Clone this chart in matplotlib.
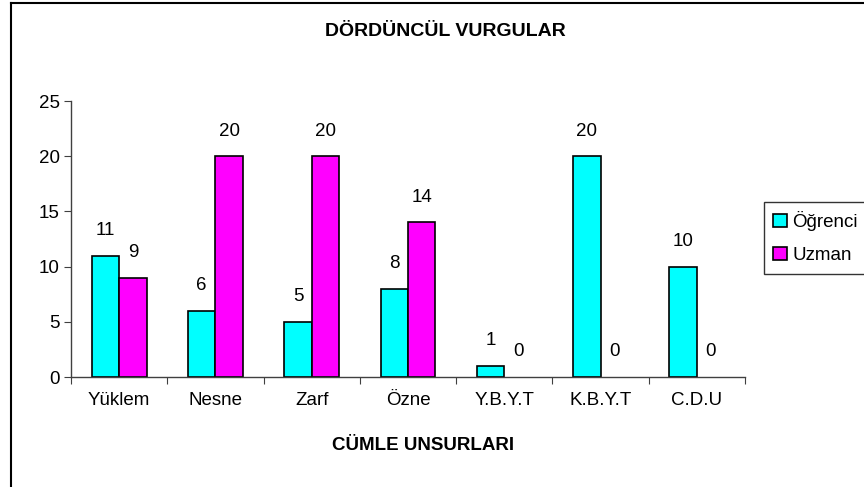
import matplotlib
matplotlib.use("Agg")
import matplotlib.pyplot as plt
from matplotlib.lines import Line2D
import numpy as np

categories = ["Yüklem", "Nesne", "Zarf", "Özne", "Y.B.Y.T", "K.B.Y.T", "C.D.U"]
ogrenci = [11, 6, 5, 8, 1, 20, 10]
uzman = [9, 20, 20, 14, 0, 0, 0]
series_names = ["Öğrenci", "Uzman"]
title = "DÖRDÜNCÜL VURGULAR"
xlabel = "CÜMLE UNSURLARI"

plt.rcParams['font.family'] = ['Liberation Sans', 'DejaVu Sans']
FS = 13.5

W, H = 864, 487
fig = plt.figure(figsize=(W/100, H/100), dpi=100)
ax = fig.add_axes([71/W, 1-377/H, (745-71)/W, (377-101)/H])

x = np.arange(len(categories))
bw = 0.285
b1 = ax.bar(x - bw/2, ogrenci, bw, color='#00FFFF', edgecolor='black', linewidth=1.2, label=series_names[0])
b2 = ax.bar(x + bw/2, uzman, bw, color='#FF00FF', edgecolor='black', linewidth=1.2, label=series_names[1])
for bars, vals in ((b1, ogrenci), (b2, uzman)):
    for r, v in zip(bars, vals):
        if v == 0:
            r.set_linewidth(0)

for bars, vals in ((b1, ogrenci), (b2, uzman)):
    for r, v in zip(bars, vals):
        ax.annotate(str(v), (r.get_x() + r.get_width()/2, v), xytext=(0, 12),
                    textcoords='offset points', ha='center', va='bottom', fontsize=FS)

ax.set_xlim(-0.5, len(categories) - 0.5)
ax.set_ylim(0, 25)
ax.set_yticks([0, 5, 10, 15, 20, 25])
ax.set_xticks(np.arange(-0.5, len(categories), 1.0))
ax.set_xticklabels([])
ax.set_xticks(x, minor=True)
ax.set_xticklabels(categories, minor=True)
ax.tick_params(axis='x', which='minor', length=0, pad=11, labelsize=FS)
ax.tick_params(axis='x', which='major', length=5, direction='out', color='#404040')
ax.tick_params(axis='y', length=5, direction='out', labelsize=FS, color='#404040', pad=3)
for s in ('top', 'right'):
    ax.spines[s].set_visible(False)
for s in ('left', 'bottom'):
    ax.spines[s].set_color('#404040')
    ax.spines[s].set_linewidth(1.0)

fig.text(445/W, 1-32/H, title, ha='center', va='center', fontsize=14, fontweight='bold')
fig.text(423/W, 1-445/H, xlabel, ha='center', va='center', fontsize=13.5, fontweight='bold')

leg = fig.legend(handles=[b1, b2], labels=series_names, loc='upper left',
                 bbox_to_anchor=(764/W, 1-202/H, 120/W, 0), mode='expand', fontsize=FS,
                 frameon=True, fancybox=False, edgecolor='black', handlelength=0.7,
                 handleheight=0.7, handletextpad=0.3, borderpad=0.5, labelspacing=0.85,
                 borderaxespad=0)
leg.get_frame().set_linewidth(1.0)

# chart-area border (top and left edges visible in the crop)
fig.add_artist(Line2D([11/W, 11/W], [0, 1-3/H], transform=fig.transFigure,
                      color='black', linewidth=1.5))
fig.add_artist(Line2D([11/W, 1], [1-3/H, 1-3/H], transform=fig.transFigure,
                      color='black', linewidth=1.5))

fig.savefig('out.png', dpi=100)
